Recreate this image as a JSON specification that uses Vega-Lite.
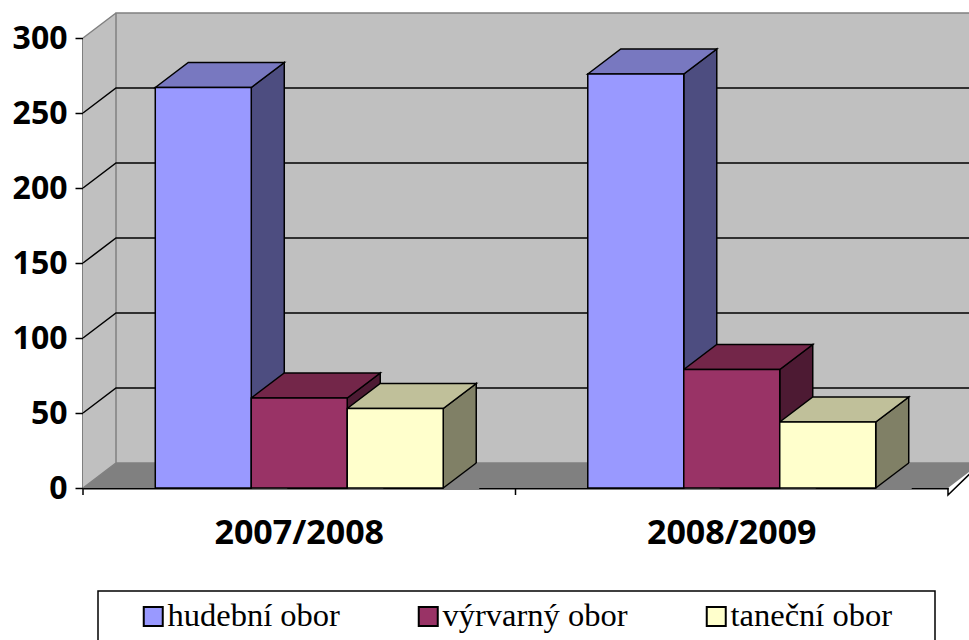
{
  "$schema": "https://vega.github.io/schema/vega-lite/v6.json",
  "width": 865,
  "height": 450,
  "autosize": {"type": "none"},
  "padding": {"left": 83, "top": 38, "right": 21, "bottom": 152},
  "background": "white",
  "config": {
    "view": {"stroke": null},
    "axis": {"grid": false, "domainColor": "black", "domainWidth": 2, "labelColor": "black", "labelFont": "Open Sans", "labelFontWeight": "bold", "zindex": 1},
    "axisX": {"ticks": false, "labelAngle": 0, "labelFontSize": 34, "labelPadding": 28},
    "axisY": {"tickColor": "black", "tickWidth": 1.5, "tickSize": 8, "labelFontSize": 32, "labelPadding": 8},
    "legend": {"symbolStrokeColor": "black", "symbolStrokeWidth": 2, "labelFont": "Liberation Serif", "labelFontSize": 32.5, "labelColor": "black", "labelLimit": 400}
  },
  "datasets": {
    "bars": [
      {"rok": "2007/2008", "obor": "hudební obor", "pocet": 267},
      {"rok": "2007/2008", "obor": "výrvarný obor", "pocet": 60},
      {"rok": "2007/2008", "obor": "taneční obor", "pocet": 53},
      {"rok": "2008/2009", "obor": "hudební obor", "pocet": 276},
      {"rok": "2008/2009", "obor": "výrvarný obor", "pocet": 79},
      {"rok": "2008/2009", "obor": "taneční obor", "pocet": 44}
    ],
    "grid": [{"v": 50}, {"v": 100}, {"v": 150}, {"v": 200}, {"v": 250}]
  },
  "resolve": {"scale": {"fill": "independent"}, "legend": {"fill": "independent"}},
  "layer": [
    {
      "data": {"values": [{}]},
      "mark": {"type": "point", "shape": "M0,0 L0,-450 L33,-475 L920,-475 L920,-25 L33,-25 Z", "size": 4, "filled": true, "fill": "#c0c0c0", "stroke": null, "opacity": 1},
      "encoding": {
        "x": {"datum": "2007/2008", "type": "nominal", "bandPosition": 0, "scale": {"type": "band", "paddingInner": 0, "paddingOuter": 0}, "axis": {"title": null}},
        "y": {"datum": 0, "type": "quantitative", "scale": {"domain": [0, 300], "nice": false}, "axis": {"title": null, "values": [0, 50, 100, 150, 200, 250, 300]}}
      }
    },
    {
      "data": {"values": [{}]},
      "mark": {"type": "point", "shape": "M0,0 L33,-25 L898,-25 L865,0 Z", "size": 4, "filled": true, "fill": "#808080", "stroke": null, "opacity": 1},
      "encoding": {
        "x": {"datum": "2007/2008", "type": "nominal", "bandPosition": 0, "axis": {"title": null}},
        "y": {"datum": 0, "type": "quantitative", "axis": {"title": null, "values": [0, 50, 100, 150, 200, 250, 300]}}
      }
    },
    {
      "data": {"values": [{}]},
      "mark": {"type": "point", "shape": "M33,-25 L33,-475 L920,-475 M0,-450 L33,-475 M0,0 L33,-25 L898,-25", "size": 4, "filled": false, "stroke": "#808080", "strokeWidth": 1.5, "opacity": 1},
      "encoding": {
        "x": {"datum": "2007/2008", "type": "nominal", "bandPosition": 0, "axis": {"title": null}},
        "y": {"datum": 0, "type": "quantitative", "axis": {"title": null, "values": [0, 50, 100, 150, 200, 250, 300]}}
      }
    },
    {
      "data": {"name": "grid"},
      "mark": {"type": "point", "shape": "M0,0 L33,-25 L920,-25", "size": 4, "filled": false, "stroke": "black", "strokeWidth": 1.5, "opacity": 1},
      "encoding": {
        "x": {"datum": "2007/2008", "type": "nominal", "bandPosition": 0, "axis": {"title": null}},
        "y": {"field": "v", "type": "quantitative", "axis": {"title": null, "values": [0, 50, 100, 150, 200, 250, 300]}}
      }
    },
    {
      "data": {"name": "bars"},
      "mark": {"type": "point", "shape": "M48,0 L81,-25 L81,520 L48,520 Z", "size": 4, "filled": true, "stroke": "black", "strokeWidth": 1.5, "opacity": 1, "clip": true},
      "encoding": {
        "x": {"field": "rok", "type": "nominal", "axis": {"title": null}},
        "xOffset": {"field": "obor", "type": "nominal", "scale": {"type": "band", "domain": ["hudební obor", "výrvarný obor", "taneční obor"], "paddingInner": 0, "paddingOuter": 0.753}},
        "y": {"field": "pocet", "type": "quantitative", "axis": {"title": null, "values": [0, 50, 100, 150, 200, 250, 300]}},
        "fill": {"field": "obor", "type": "nominal", "scale": {"domain": ["hudební obor", "výrvarný obor", "taneční obor"], "range": ["#4d4d80", "#4d1a33", "#808066"]}, "legend": null}
      }
    },
    {
      "data": {"name": "bars"},
      "mark": {"type": "point", "shape": "M-48,0 L-15,-25 L81,-25 L48,0 Z", "size": 4, "filled": true, "stroke": "black", "strokeWidth": 1.5, "opacity": 1},
      "encoding": {
        "x": {"field": "rok", "type": "nominal", "axis": {"title": null}},
        "xOffset": {"field": "obor", "type": "nominal"},
        "y": {"field": "pocet", "type": "quantitative", "axis": {"title": null, "values": [0, 50, 100, 150, 200, 250, 300]}},
        "fill": {"field": "obor", "type": "nominal", "scale": {"domain": ["hudební obor", "výrvarný obor", "taneční obor"], "range": ["#7878c0", "#732649", "#c0c09a"]}, "legend": null}
      }
    },
    {
      "data": {"name": "bars"},
      "mark": {"type": "point", "shape": "M48,0 L81,-25 L84,-25 L84,2 L48,2 Z", "size": 4, "filled": true, "fill": "#808080", "stroke": null, "opacity": 1},
      "encoding": {
        "x": {"field": "rok", "type": "nominal", "axis": {"title": null}},
        "xOffset": {"field": "obor", "type": "nominal"},
        "y": {"datum": 0, "type": "quantitative", "axis": {"title": null, "values": [0, 50, 100, 150, 200, 250, 300]}}
      }
    },
    {
      "data": {"name": "bars"},
      "mark": {"type": "point", "shape": "M48,0 L81,-25", "size": 4, "filled": false, "stroke": "black", "strokeWidth": 1.5, "opacity": 1},
      "encoding": {
        "x": {"field": "rok", "type": "nominal", "axis": {"title": null}},
        "xOffset": {"field": "obor", "type": "nominal"},
        "y": {"datum": 0, "type": "quantitative", "axis": {"title": null, "values": [0, 50, 100, 150, 200, 250, 300]}}
      }
    },
    {
      "data": {"name": "bars"},
      "mark": {"type": "bar", "stroke": "black", "strokeWidth": 1.5},
      "encoding": {
        "x": {"field": "rok", "type": "nominal", "axis": {"title": null}},
        "xOffset": {"field": "obor", "type": "nominal"},
        "y": {"field": "pocet", "type": "quantitative", "axis": {"title": null, "values": [0, 50, 100, 150, 200, 250, 300]}},
        "fill": {"field": "obor", "type": "nominal", "scale": {"domain": ["hudební obor", "výrvarný obor", "taneční obor"], "range": ["#9999ff", "#993366", "#ffffcc"]}, "legend": {"orient": "none", "legendX": 54, "legendY": 562, "direction": "horizontal", "columns": 3, "title": null, "symbolType": "square", "symbolSize": 361, "labelOffset": -2, "columnPadding": 72, "padding": 0, "encode": {"symbols": {"update": {"stroke": {"value": "black"}, "strokeWidth": {"value": 2}}}}}}
      }
    },
    {
      "data": {"values": [{}]},
      "mark": {"type": "point", "shape": "M0,0 L0,7 M432.5,0 L432.5,7 M865,0 L865,7 L898,-25 M15,103 L852,103 L852,180 L15,180 Z", "size": 4, "filled": false, "stroke": "black", "strokeWidth": 1.5, "opacity": 1},
      "encoding": {
        "x": {"datum": "2007/2008", "type": "nominal", "bandPosition": 0, "axis": {"title": null}},
        "y": {"datum": 0, "type": "quantitative", "axis": {"title": null, "values": [0, 50, 100, 150, 200, 250, 300]}}
      }
    }
  ]
}
